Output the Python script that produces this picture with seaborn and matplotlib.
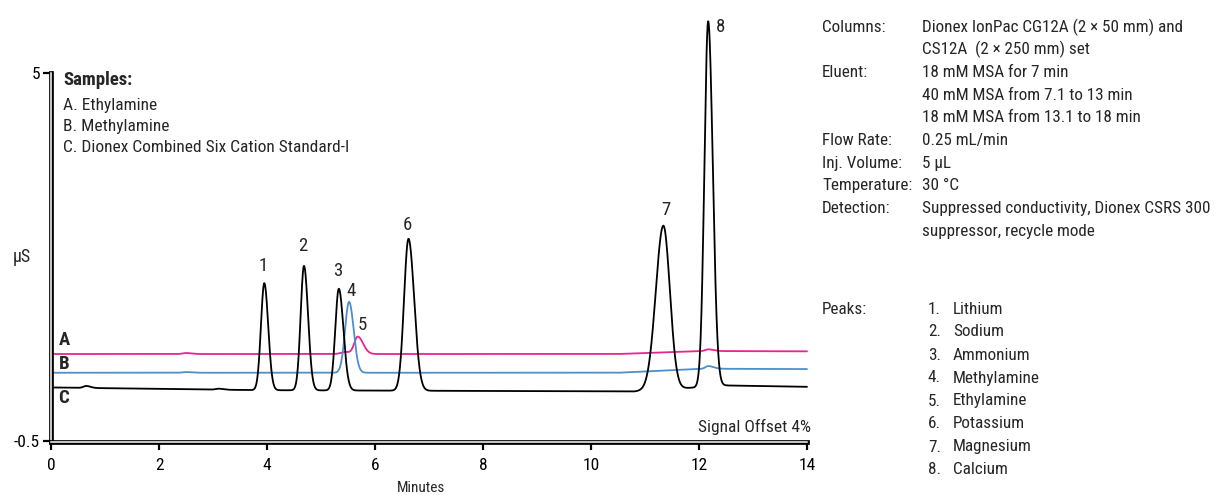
import numpy as np
import pandas as pd
import seaborn as sns
import matplotlib
matplotlib.use("Agg")
import matplotlib.pyplot as plt
import matplotlib.patheffects as pe

# Peak table (minutes, height above baseline in uS, widths)
trace_names = ["A", "B", "C"]
trace_colors = ["#E8258E", "#4D8FCB", "#000000"]

c_rt = [0.65, 3.10, 3.95, 4.685, 5.33, 6.62, 11.34, 12.17]
c_height = [0.03, 0.015, 1.60, 1.86, 1.52, 2.27, 2.45, 5.46]
c_sig_l = [0.05, 0.05, 0.062, 0.062, 0.066, 0.082, 0.14, 0.07]
c_sig_r = [0.08, 0.08, 0.072, 0.075, 0.085, 0.105, 0.12, 0.085]
c_base_t = [0, 3.8, 10.8, 12.5, 14]
c_base_v = [0.30, 0.26, 0.24, 0.33, 0.31]

b_rt = [2.5, 5.52, 12.17]
b_height = [0.01, 1.06, 0.04]
b_sig_l = [0.06, 0.075, 0.05]
b_sig_r = [0.10, 0.085, 0.10]
b_base_t = [0, 10.5, 12.1, 14]
b_base_v = [0.52, 0.52, 0.58, 0.575]

a_rt = [2.5, 5.45, 5.68, 12.17]
a_height = [0.015, 0.03, 0.26, 0.025]
a_sig_l = [0.06, 0.08, 0.065, 0.05]
a_sig_r = [0.10, 0.08, 0.10, 0.10]
a_base_t = [0, 10.5, 12.1, 14]
a_base_v = [0.80, 0.80, 0.845, 0.84]

peak_labels = ["1", "2", "3", "4", "5", "6", "7", "8"]
peak_label_trace = ["C", "C", "C", "B", "A", "C", "C", "C"]
peak_label_rt = [3.95, 4.685, 5.33, 5.52, 5.68, 6.62, 11.34, 12.17]
peak_label_offset = [(-1, 12), (-1, 14), (-1, 13), (1.5, 8), (3, 8), (-1, 10), (2, 11), (9, -4)]

sample_lines = ["A. Ethylamine", "B. Methylamine", "C. Dionex Combined Six Cation Standard-I"]
cond_keys = ["Columns:", "", "Eluent:", "", "", "Flow Rate:", "Inj. Volume:",
             "Temperature:", "Detection:", ""]
cond_values = ["Dionex IonPac CG12A (2 \u00d7 50 mm) and", "CS12A  (2 \u00d7 250 mm) set",
               "18 mM MSA for 7 min", "40 mM MSA from 7.1 to 13 min",
               "18 mM MSA from 13.1 to 18 min", "0.25 mL/min", "5 \u00b5L", "30 \u00b0C",
               "Suppressed conductivity, Dionex CSRS 300", "suppressor, recycle mode"]
peak_names = ["Lithium", "Sodium", "Ammonium", "Methylamine", "Ethylamine",
              "Potassium", "Magnesium", "Calcium"]

t = np.linspace(0, 14, 2801)


def trace(rt, height, sl, sr, base_t, base_v):
    y = np.interp(t, base_t, base_v)
    for m, h, s1, s2 in zip(rt, height, sl, sr):
        s = np.where(t < m, s1, s2)
        y = y + h * np.exp(-0.5 * ((t - m) / s) ** 2)
    return y


signals = {
    "A": trace(a_rt, a_height, a_sig_l, a_sig_r, a_base_t, a_base_v),
    "B": trace(b_rt, b_height, b_sig_l, b_sig_r, b_base_t, b_base_v),
    "C": trace(c_rt, c_height, c_sig_l, c_sig_r, c_base_t, c_base_v),
}
df = pd.concat([pd.DataFrame({"Minutes": t, "uS": signals[k], "Sample": k}) for k in trace_names])

sns.set_style("white")
plt.rcParams["font.family"] = ["Roboto Condensed", "Liberation Sans Narrow", "Roboto", "DejaVu Sans"]

W, H = 1216, 496
fig = plt.figure(figsize=(W / 100, H / 100), dpi=100)
ax = fig.add_axes([51 / W, 1 - 441 / H, 756 / W, 368 / H])

sns.lineplot(data=df, x="Minutes", y="uS", hue="Sample", hue_order=trace_names,
             palette=dict(zip(trace_names, trace_colors)), linewidth=1.3,
             legend=False, ax=ax, sort=False)
for line in ax.get_lines():
    line.set_clip_on(False)

ax.set_xlim(0, 14)
ax.set_ylim(-0.5, 5)
ax.set_xticks([0, 2, 4, 6, 8, 10, 12, 14])
ax.set_yticks([5, -0.5])
ax.set_yticklabels(["5", "-0.5"])
ax.tick_params(axis="both", direction="out", length=6, width=1.6, labelsize=12.5,
               colors="black", left=True, bottom=True)
ax.tick_params(axis="x", pad=5)
ax.tick_params(axis="y", pad=2)
ax.set_xlabel("Minutes", fontsize=11, va="baseline")
ax.xaxis.set_label_coords((421 - 51) / 756, (441 - 492.5) / 368)
ax.set_ylabel("\u00b5S", fontsize=13, rotation=0, va="center", ha="center")
ax.yaxis.set_label_coords(-0.038, 0.5)

for side in ["top", "right"]:
    ax.spines[side].set_visible(False)
for side in ["left", "bottom"]:
    sp = ax.spines[side]
    sp.set_color("white")
    sp.set_linewidth(1.1)
    sp.set_path_effects([pe.Stroke(linewidth=3.4, foreground="black"), pe.Normal()])
ax.spines["bottom"].set_position(("outward", 1))

# peak numbers
for lab, tr, rt, off in zip(peak_labels, peak_label_trace, peak_label_rt, peak_label_offset):
    yv = np.interp(rt, t, signals[tr])
    ax.annotate(lab, (rt, yv), xytext=off, textcoords="offset points",
                ha="center", va="center", fontsize=13.5, annotation_clip=False)

# trace letters
ax.text(0.24, 1.01, "A", fontsize=13.5, fontweight="bold", va="center", ha="center")
ax.text(0.24, 0.65, "B", fontsize=13.5, fontweight="bold", va="center", ha="center")
ax.text(0.24, 0.14, "C", fontsize=13.5, fontweight="bold", va="center", ha="center")
ax.text(14.08, -0.29, "Signal Offset 4%", fontsize=12.5, ha="right", va="center")

# samples block
ax.text(0.22, 4.895, "Samples:", fontsize=13.5, fontweight="bold", va="center")
for i, s in enumerate(sample_lines):
    ax.text(0.22, 4.52 - i * 0.315, s, fontsize=12.5, va="center")

# conditions block
for i, (k, v) in enumerate(zip(cond_keys, cond_values)):
    yy = 1 - (27 + i * 22.7) / H
    fig.text(822 / W, yy, k, fontsize=12.3, va="center")
    fig.text(922 / W, yy, v, fontsize=12.3, va="center")

fig.text(822 / W, 1 - 309 / H, "Peaks:", fontsize=12.3, va="center")
for i, n in enumerate(peak_names):
    yy = 1 - (309 + i * 23) / H
    fig.text(941 / W, yy, f"{i + 1}.", fontsize=12.3, va="center", ha="right")
    fig.text(953 / W, yy, n, fontsize=12.3, va="center")

fig.savefig("out.png", dpi=100)
